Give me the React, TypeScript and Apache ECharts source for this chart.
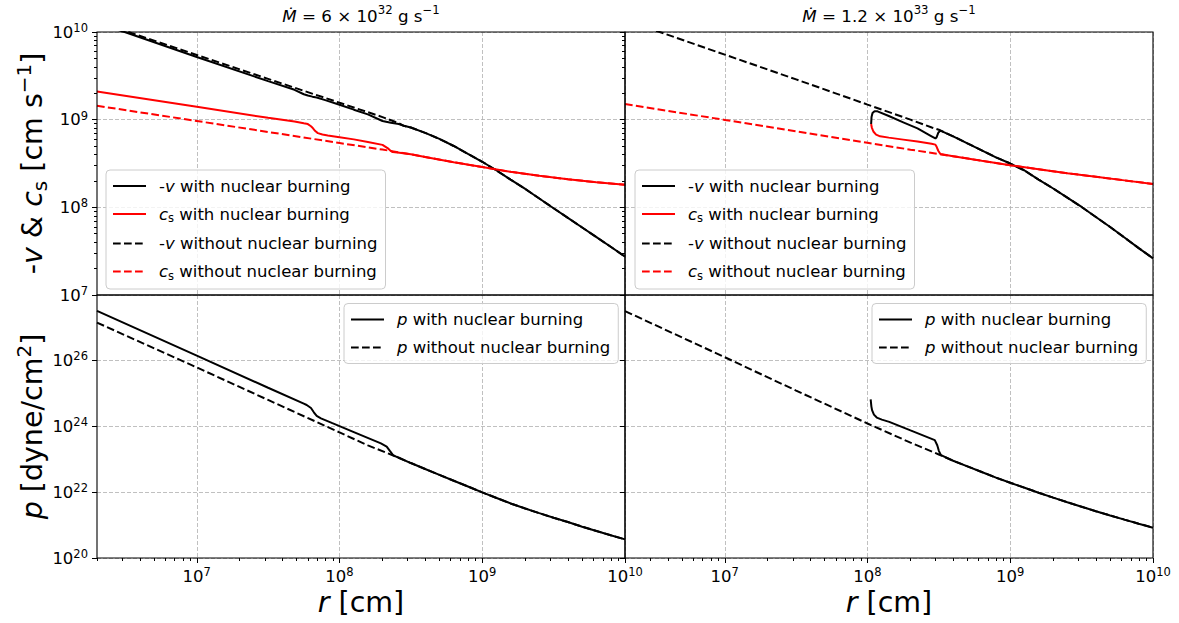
import React, { useEffect, useRef } from "react";
import * as echarts from "echarts";

type Pt = [number, number];

const FONT = "DejaVu Sans";

// ---------- axes / ticks ----------
const X_MIN = 2e6;
const X_MAX = 1e10;
const X_MAJOR = [1e7, 1e8, 1e9, 1e10];
const MINOR_MULT = [2, 3, 4, 5, 6, 7, 8, 9];
const X_MINOR_DECADES = [1e6, 1e7, 1e8, 1e9];
const Y_TOP_MIN = 1e7;
const Y_TOP_MAX = 1e10;
const Y_TOP_MAJOR = [1e7, 1e8, 1e9, 1e10];
const Y_TOP_MINOR_DECADES = [1e7, 1e8, 1e9];
const Y_BOT_MIN = 1e20;
const Y_BOT_MAX = 9.5e27;
const Y_BOT_MAJOR = [1e20, 1e22, 1e24, 1e26];

// ---------- left column: Mdot = 6e32 ----------
const L_V_BURN_INNER: Pt[] = [
  [2.0e6, 1.26e10], [3.16e6, 9.93e9], [1.0e7, 5.19e9], [3.16e7, 2.75e9], [4.84e7, 2.19e9],
  [5.62e7, 1.95e9], [6.0e7, 1.89e9], [6.46e7, 1.83e9], [6.92e7, 1.79e9], [7.94e7, 1.67e9],
  [1.0e8, 1.48e9], [1.26e8, 1.30e9], [1.58e8, 1.15e9], [2.0e8, 9.66e8], [2.29e8, 9.20e8],
  [2.60e8, 8.91e8], [2.82e8, 8.51e8], [3.16e8, 8.13e8],
];
const L_V_NOBURN_INNER: Pt[] = [
  [2.0e6, 1.32e10], [1.0e7, 5.47e9], [3.16e7, 2.92e9], [1.0e8, 1.56e9], [2.0e8, 1.07e9],
  [2.60e8, 9.10e8], [2.82e8, 8.51e8], [3.16e8, 8.13e8],
];
const L_V_TAIL: Pt[] = [
  [3.98e8, 7.08e8], [5.01e8, 6.03e8], [6.31e8, 5.01e8], [7.94e8, 4.07e8], [1.0e9, 3.31e8],
  [1.26e9, 2.63e8], [1.58e9, 2.07e8], [2.0e9, 1.62e8], [2.51e9, 1.26e8], [3.16e9, 9.77e7],
  [3.98e9, 7.59e7], [5.01e9, 5.89e7], [6.31e9, 4.57e7], [7.94e9, 3.55e7], [1.0e10, 2.74e7],
];
const L_CS_BURN_INNER: Pt[] = [
  [2.0e6, 2.10e9], [1.0e7, 1.40e9], [3.16e7, 1.05e9], [4.84e7, 9.55e8], [5.62e7, 9.08e8],
  [6.0e7, 8.91e8], [6.31e7, 8.41e8], [6.50e7, 8.02e8], [6.76e7, 7.41e8], [7.05e7, 7.03e8],
  [7.59e7, 6.76e8], [8.28e7, 6.61e8], [1.0e8, 6.31e8], [1.26e8, 5.96e8], [1.58e8, 5.56e8],
  [2.0e8, 5.16e8], [2.17e8, 4.74e8], [2.26e8, 4.47e8], [2.36e8, 4.27e8], [2.63e8, 4.20e8],
];
const L_CS_NOBURN_INNER: Pt[] = [
  [2.0e6, 1.44e9], [1.0e7, 9.66e8], [3.16e7, 7.24e8], [1.0e8, 5.42e8], [2.0e8, 4.56e8],
];
const L_CS_TAIL: Pt[] = [
  [3.16e8, 4.03e8], [3.98e8, 3.76e8], [6.31e8, 3.27e8], [1.0e9, 2.88e8], [1.58e9, 2.54e8],
  [2.51e9, 2.29e8], [3.98e9, 2.09e8], [6.31e9, 1.93e8], [1.0e10, 1.81e8],
];
const L_P_BURN_INNER: Pt[] = [
  [2.0e6, 3.13e27], [1.0e7, 1.38e26], [3.16e7, 1.46e25], [5.62e7, 4.79e24], [5.89e7, 4.37e24],
  [6.31e7, 3.55e24], [6.61e7, 2.63e24], [6.92e7, 2.04e24], [7.41e7, 1.72e24], [8.91e7, 1.23e24],
  [1.26e8, 6.61e23], [1.95e8, 2.99e23], [2.14e8, 2.40e23], [2.26e8, 1.74e23], [2.37e8, 1.32e23],
  [2.51e8, 1.175e23],
];
const L_P_NOBURN_INNER: Pt[] = [
  [2.0e6, 1.38e27], [1.0e7, 6.03e25], [3.16e7, 6.22e24], [1.0e8, 6.46e23], [1.58e8, 2.61e23],
  [2.51e8, 1.175e23],
];
const L_P_TAIL: Pt[] = [
  [3.16e8, 7.59e22], [3.98e8, 5.01e22], [5.01e8, 3.31e22], [6.31e8, 2.21e22], [7.94e8, 1.48e22],
  [1.0e9, 9.77e21], [1.26e9, 6.61e21], [1.58e9, 4.52e21], [2.0e9, 3.16e21], [2.51e9, 2.29e21],
  [3.16e9, 1.66e21], [3.98e9, 1.23e21], [5.01e9, 8.91e20], [6.31e9, 6.61e20], [7.94e9, 4.90e20],
  [1.0e10, 3.68e20],
];

// ---------- right column: Mdot = 1.2e33 ----------
const R_V_BURN_INNER: Pt[] = [
  [1.06e8, 8.91e8], [1.067e8, 1.07e9], [1.084e8, 1.19e9], [1.12e8, 1.25e9], [1.175e8, 1.245e9],
  [1.41e8, 1.10e9], [1.78e8, 9.33e8], [2.24e8, 7.94e8], [2.81e8, 6.46e8], [2.99e8, 6.10e8],
  [3.05e8, 6.31e8], [3.13e8, 7.08e8], [3.24e8, 7.50e8],
];
const R_V_NOBURN_INNER: Pt[] = [
  [2.0e6, 1.374e10], [1.0e7, 5.52e9], [3.16e7, 2.88e9], [1.0e8, 1.486e9], [2.0e8, 1.0e9],
  [2.82e8, 8.13e8], [3.16e8, 7.67e8],
];
const R_V_TAIL: Pt[] = [
  [3.98e8, 6.46e8], [5.01e8, 5.37e8], [6.31e8, 4.47e8], [7.94e8, 3.72e8], [1.0e9, 3.16e8],
  [1.26e9, 2.63e8], [1.58e9, 2.07e8], [2.0e9, 1.64e8], [2.51e9, 1.29e8], [3.16e9, 1.01e8],
  [3.98e9, 7.76e7], [5.01e9, 5.96e7], [6.31e9, 4.52e7], [7.94e9, 3.43e7], [1.0e10, 2.62e7],
];
const R_CS_BURN_INNER: Pt[] = [
  [1.06e8, 8.91e8], [1.072e8, 8.13e8], [1.099e8, 7.33e8], [1.148e8, 6.76e8], [1.225e8, 6.46e8],
  [1.41e8, 6.24e8], [1.78e8, 5.92e8], [2.24e8, 5.62e8], [2.81e8, 5.31e8], [2.99e8, 5.19e8],
  [3.05e8, 4.90e8], [3.13e8, 4.42e8], [3.24e8, 4.05e8],
];
const R_CS_NOBURN_INNER: Pt[] = [
  [2.0e6, 1.51e9], [1.0e7, 9.93e8], [3.16e7, 7.35e8], [1.0e8, 5.45e8], [2.0e8, 4.55e8],
  [3.16e8, 4.05e8],
];
const R_CS_TAIL: Pt[] = [
  [3.98e8, 3.83e8], [6.31e8, 3.39e8], [1.0e9, 3.02e8], [1.58e9, 2.72e8], [2.51e9, 2.45e8],
  [3.98e9, 2.23e8], [6.31e9, 2.03e8], [1.0e10, 1.85e8],
];
const R_P_BURN_INNER: Pt[] = [
  [1.052e8, 6.46e24], [1.064e8, 3.98e24], [1.076e8, 3.05e24], [1.109e8, 2.24e24], [1.161e8, 1.82e24],
  [1.26e8, 1.58e24], [1.42e8, 1.35e24], [2.0e8, 7.41e23], [2.96e8, 3.77e23], [3.08e8, 2.63e23],
  [3.16e8, 1.78e23], [3.27e8, 1.32e23],
];
const R_P_NOBURN_INNER: Pt[] = [
  [2.0e6, 3.09e27], [1.0e7, 1.23e26], [3.16e7, 1.20e25], [1.0e8, 1.20e24], [2.0e8, 3.16e23],
  [3.16e8, 1.38e23],
];
const R_P_TAIL: Pt[] = [
  [3.98e8, 8.91e22], [5.01e8, 6.03e22], [6.31e8, 4.07e22], [7.94e8, 2.75e22], [1.0e9, 1.91e22],
  [1.26e9, 1.35e22], [1.58e9, 9.55e21], [2.0e9, 6.76e21], [2.51e9, 4.90e21], [3.16e9, 3.59e21],
  [3.98e9, 2.63e21], [5.01e9, 1.95e21], [6.31e9, 1.46e21], [7.94e9, 1.10e21], [1.0e10, 8.32e20],
];

// ---------- labels ----------
const N_V_B = "-v with nuclear burning";
const N_C_B = "c_s with nuclear burning";
const N_V_N = "-v without nuclear burning";
const N_C_N = "c_s without nuclear burning";
const N_P_B = "p with nuclear burning";
const N_P_N = "p without nuclear burning";
const LEGEND_RICH_TEXT: Record<string, string> = {
  [N_V_B]: "{n|-}{i|v}{n| with nuclear burning}",
  [N_C_B]: "{i|c}{sub|s}{n| with nuclear burning}",
  [N_V_N]: "{n|-}{i|v}{n| without nuclear burning}",
  [N_C_N]: "{i|c}{sub|s}{n| without nuclear burning}",
  [N_P_B]: "{i|p}{n| with nuclear burning}",
  [N_P_N]: "{i|p}{n| without nuclear burning}",
};
const TITLE_LEFT = "{i|Ṁ}{n| = 6 × 10}{s|32}{n| g s}{s|−1}";
const TITLE_RIGHT = "{i|Ṁ}{n| = 1.2 × 10}{s|33}{n| g s}{s|−1}";
const YLABEL_TOP = "{n|-}{i|v}{n| & }{i|c}{sub|s}{n| [cm s}{sup|−1}{n|]}";
const YLABEL_BOT = "{i|p}{n| [dyne/cm}{sup|2}{n|]}";
const XLABEL = "{i|r}{n| [cm]}";

// ---------- layout ----------
const GL = 97;
const GM = 625;
const GR = 1153;
const GT = 32;
const GMID = 295;
const GB = 558;
const PW = GM - GL;
const PH = GMID - GT;

const minorOf = (decades: number[], lo: number, hi: number) =>
  decades.flatMap((d) => MINOR_MULT.map((m) => m * d)).filter((v) => v >= lo && v <= hi);

const X_MINOR = minorOf(X_MINOR_DECADES, X_MIN, X_MAX);
const Y_TOP_MINOR = minorOf(Y_TOP_MINOR_DECADES, Y_TOP_MIN, Y_TOP_MAX);

const tickRich = {
  b: { fontFamily: FONT, fontSize: 16.5, color: "#000", lineHeight: 20, verticalAlign: "middle" },
  s: { fontFamily: FONT, fontSize: 11.5, color: "#000", lineHeight: 12, verticalAlign: "top" },
};
const pow10 = (v: number) => `{b|10}{s|${Math.round(Math.log10(v))}}`;

const gridLine = { color: "#b0b0b0", width: 0.8, type: [4, 2] as any };
const tickLine = { color: "#000", width: 1 };

function tickLabel(show: boolean, values: number[], margin: number) {
  return {
    show, customValues: values, formatter: pow10, rich: tickRich, margin,
    fontFamily: FONT, fontSize: 16.5, color: "#000", hideOverlap: false,
  };
}

function xMain(gridIndex: number, withLabels: boolean) {
  return {
    type: "log", logBase: 10, gridIndex, min: X_MIN, max: X_MAX, position: "bottom",
    axisLine: { show: false },
    axisTick: { show: withLabels, length: 5, lineStyle: tickLine, customValues: X_MAJOR },
    axisLabel: tickLabel(withLabels, X_MAJOR, 8),
    splitLine: { show: true, lineStyle: gridLine },
  };
}
function xMinor(gridIndex: number) {
  return {
    type: "log", logBase: 10, gridIndex, min: X_MIN, max: X_MAX, position: "bottom",
    axisLine: { show: false },
    axisTick: { show: true, length: 3, lineStyle: tickLine, customValues: X_MINOR },
    axisLabel: { show: false },
    splitLine: { show: false },
  };
}
function yMain(gridIndex: number, min: number, max: number, major: number[], withLabels: boolean) {
  return {
    type: "log", logBase: 10, gridIndex, min, max, position: "left",
    axisLine: { show: false },
    axisTick: { show: true, length: 5, lineStyle: tickLine, customValues: major },
    axisLabel: tickLabel(withLabels, major, 9),
    splitLine: { show: true, lineStyle: gridLine },
  };
}
function yMinor(gridIndex: number) {
  return {
    type: "log", logBase: 10, gridIndex, min: Y_TOP_MIN, max: Y_TOP_MAX, position: "left",
    axisLine: { show: false },
    axisTick: { show: true, length: 3, lineStyle: tickLine, customValues: Y_TOP_MINOR },
    axisLabel: { show: false },
    splitLine: { show: false },
  };
}

function line(name: string, data: Pt[], idx: number, color: string, dashed: boolean) {
  return {
    type: "line", name, data, xAxisIndex: idx, yAxisIndex: idx,
    symbol: "none", showSymbol: false, clip: true, smooth: false,
    lineStyle: { color, width: 2, type: dashed ? [7.7, 3.3] : "solid" },
    itemStyle: { color },
    emphasis: { disabled: true },
    z: 2,
  };
}

const legendRich = {
  n: { fontFamily: FONT, fontSize: 16.5, color: "#000", lineHeight: 20 },
  i: { fontFamily: FONT, fontSize: 16.5, color: "#000", lineHeight: 20, fontStyle: "italic" },
  sub: { fontFamily: FONT, fontSize: 11.5, color: "#000", lineHeight: 12, verticalAlign: "bottom" },
};
function legend(names: string[], left: number, top: number) {
  return {
    show: true, data: names, left, top, orient: "vertical",
    itemWidth: 33, itemHeight: 14, itemGap: 11, padding: [7.5, 8, 7.5, 6],
    backgroundColor: "rgba(255,255,255,0.8)", borderColor: "#cccccc", borderWidth: 1, borderRadius: 4,
    selectedMode: false,
    itemStyle: { opacity: 0, borderWidth: 0 },
    lineStyle: { width: 2 },
    formatter: (n: string) => LEGEND_RICH_TEXT[n] ?? n,
    textStyle: { fontFamily: FONT, fontSize: 16.5, color: "#000", padding: [0, 0, 0, 8], rich: legendRich },
  };
}

const bigRich = {
  n: { fontFamily: FONT, fontSize: 28.5, fill: "#000", color: "#000", lineHeight: 36, verticalAlign: "middle" },
  i: { fontFamily: FONT, fontSize: 28.5, fill: "#000", color: "#000", lineHeight: 36, verticalAlign: "middle", fontStyle: "italic" },
  sup: { fontFamily: FONT, fontSize: 20, fill: "#000", color: "#000", lineHeight: 20, verticalAlign: "top" },
  sub: { fontFamily: FONT, fontSize: 20, fill: "#000", color: "#000", lineHeight: 20, verticalAlign: "bottom" },
};
const titleRich = {
  n: { fontFamily: FONT, fontSize: 16.7, fill: "#000", color: "#000", lineHeight: 24, verticalAlign: "middle" },
  i: { fontFamily: FONT, fontSize: 16.7, fill: "#000", color: "#000", lineHeight: 24, verticalAlign: "middle", fontStyle: "italic" },
  s: { fontFamily: FONT, fontSize: 11.7, fill: "#000", color: "#000", lineHeight: 14, verticalAlign: "top" },
};
function label(text: string, x: number, y: number, rich: any, rotation = 0) {
  return {
    type: "text", x, y, rotation, z: 50,
    style: {
      text, rich, fill: "#000", fontFamily: FONT,
      align: "center", verticalAlign: "middle", textAlign: "center", textVerticalAlign: "middle",
    },
  };
}
function box(x: number, y: number) {
  return {
    type: "rect", z: 100, silent: true,
    shape: { x, y, width: PW, height: PH },
    style: { fill: "none", stroke: "#000", lineWidth: 1.1 },
  };
}

const option: any = {
  animation: false,
  backgroundColor: "#ffffff",
  grid: [
    { left: GL, top: GT, width: PW, height: PH, outerBoundsMode: "none", containLabel: false },
    { left: GM, top: GT, width: GR - GM, height: PH, outerBoundsMode: "none", containLabel: false },
    { left: GL, top: GMID, width: PW, height: GB - GMID, outerBoundsMode: "none", containLabel: false },
    { left: GM, top: GMID, width: GR - GM, height: GB - GMID, outerBoundsMode: "none", containLabel: false },
  ],
  xAxis: [xMain(0, false), xMain(1, false), xMain(2, true), xMain(3, true), xMinor(2), xMinor(3)],
  yAxis: [
    yMain(0, Y_TOP_MIN, Y_TOP_MAX, Y_TOP_MAJOR, true),
    yMain(1, Y_TOP_MIN, Y_TOP_MAX, Y_TOP_MAJOR, false),
    yMain(2, Y_BOT_MIN, Y_BOT_MAX, Y_BOT_MAJOR, true),
    yMain(3, Y_BOT_MIN, Y_BOT_MAX, Y_BOT_MAJOR, false),
    yMinor(0),
    yMinor(1),
  ],
  legend: [
    legend([N_V_B, N_C_B, N_V_N, N_C_N], 106, 170),
    legend([N_V_B, N_C_B, N_V_N, N_C_N], 635, 170),
    legend([N_P_B, N_P_N], 344, 303.5),
    legend([N_P_B, N_P_N], 872, 303.5),
  ],
  series: [
    line(N_V_B, [...L_V_BURN_INNER, ...L_V_TAIL], 0, "#000000", false),
    line(N_C_B, [...L_CS_BURN_INNER, ...L_CS_TAIL], 0, "#ff0000", false),
    line(N_V_N, [...L_V_NOBURN_INNER, ...L_V_TAIL], 0, "#000000", true),
    line(N_C_N, [...L_CS_NOBURN_INNER, ...L_CS_TAIL], 0, "#ff0000", true),

    line(N_V_B, [...R_V_BURN_INNER, ...R_V_TAIL], 1, "#000000", false),
    line(N_C_B, [...R_CS_BURN_INNER, ...R_CS_TAIL], 1, "#ff0000", false),
    line(N_V_N, [...R_V_NOBURN_INNER, ...R_V_TAIL], 1, "#000000", true),
    line(N_C_N, [...R_CS_NOBURN_INNER, ...R_CS_TAIL], 1, "#ff0000", true),

    line(N_P_B, [...L_P_BURN_INNER, ...L_P_TAIL], 2, "#000000", false),
    line(N_P_N, [...L_P_NOBURN_INNER, ...L_P_TAIL], 2, "#000000", true),

    line(N_P_B, [...R_P_BURN_INNER, ...R_P_TAIL], 3, "#000000", false),
    line(N_P_N, [...R_P_NOBURN_INNER, ...R_P_TAIL], 3, "#000000", true),
  ],
  graphic: [
    box(GL, GT), box(GM, GT), box(GL, GMID), box(GM, GMID),
    label(TITLE_LEFT, (GL + GM) / 2, 16, titleRich),
    label(TITLE_RIGHT, (GM + GR) / 2, 16, titleRich),
    label(YLABEL_TOP, 32, (GT + GMID) / 2, bigRich, Math.PI / 2),
    label(YLABEL_BOT, 32, (GMID + GB) / 2, bigRich, Math.PI / 2),
    label(XLABEL, (GL + GM) / 2, 602, bigRich),
    label(XLABEL, (GM + GR) / 2, 602, bigRich),
  ],
};

export default function App() {
  const ref = useRef<HTMLDivElement>(null);
  useEffect(() => {
    if (!ref.current) return;
    const chart = echarts.init(ref.current, null, { renderer: "svg" });
    chart.setOption(option);
    return () => chart.dispose();
  }, []);
  return (
    <div
      ref={ref}
      style={{ position: "absolute", left: 0, top: 0, width: 1179, height: 623, background: "#fff" }}
    />
  );
}
